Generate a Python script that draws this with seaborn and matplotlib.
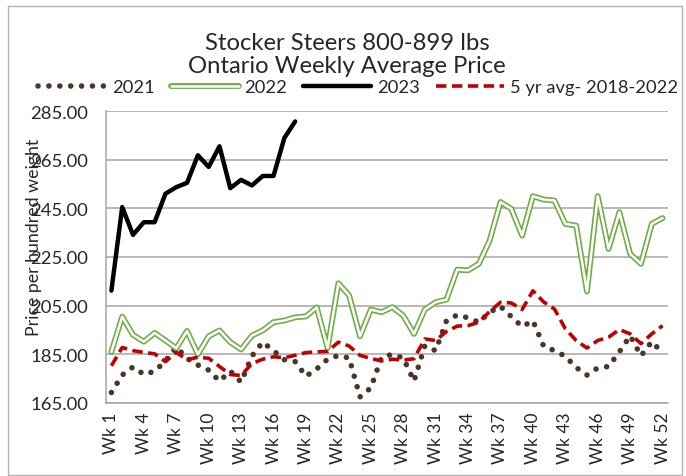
import matplotlib

matplotlib.use("Agg")
import matplotlib.pyplot as plt
from matplotlib.lines import Line2D
from matplotlib.patches import Rectangle
import numpy as np
import pandas as pd
import seaborn as sns

weeks = list(range(1, 53))

price_2021 = [
    169.3, 176.5, 179.8, 176.8, 178.0, 182.3, 188.0, 183.3, 180.6, 178.5,
    174.0, 178.1, 173.6, 184.3, 190.0, 186.5, 182.8, 182.0, 176.0, 179.0,
    183.0, 184.5, 183.5, 167.5, 171.2, 183.8, 185.0, 183.5, 174.0, 188.5,
    186.5, 198.8, 201.2, 200.0, 198.2, 202.3, 204.7, 200.5, 196.4, 198.8,
    188.3, 186.5, 184.2, 179.6, 176.5, 179.4, 180.0, 186.0, 192.6, 184.4,
    190.2, 185.6,
]
price_2022 = [
    186.0, 200.5, 193.0, 190.2, 193.8, 190.7, 187.5, 194.6, 185.0, 192.4,
    194.8, 190.0, 187.0, 192.7, 194.8, 198.2, 198.9, 200.2, 200.6, 204.3,
    187.6, 214.2, 209.2, 192.4, 203.4, 202.3, 204.4, 200.9, 193.4, 203.4,
    206.4, 207.5, 219.8, 219.5, 222.2, 231.8, 247.6, 244.8, 233.8, 250.0,
    248.6, 248.2, 238.6, 237.9, 210.8, 250.0, 228.3, 243.4, 226.3, 222.2,
    238.6, 241.0,
]
price_2023 = [
    211.2, 245.5, 234.1, 239.3, 239.3, 251.0, 253.7, 255.5, 266.8, 262.0,
    270.5, 253.3, 256.7, 254.4, 258.3, 258.3, 273.9, 280.7,
]
avg_5yr = [
    180.3, 187.8, 186.5, 185.8, 185.2, 182.0, 185.8, 182.8, 183.8, 183.4,
    180.0, 176.7, 176.3, 181.2, 183.0, 184.0, 183.6, 184.6, 185.7, 186.0,
    186.2, 190.0, 188.4, 184.6, 183.3, 182.3, 183.0, 182.6, 183.2, 191.3,
    190.7, 194.4, 196.6, 196.8, 198.2, 202.6, 206.4, 206.1, 203.4, 211.1,
    206.5, 203.6, 195.5, 190.7, 187.6, 190.7, 192.0, 195.2, 193.4, 189.4,
    193.4, 196.8,
]

series_labels = ["2021", "2022", "2023", "5 yr avg- 2018-2022"]
title_lines = ["Stocker Steers 800-899 lbs", "Ontario Weekly Average Price"]
y_label = "Price per hundred weight"
y_ticks = [165, 185, 205, 225, 245, 265, 285]

BROWN = "#4B3528"
GREEN = "#70AD47"
RED = "#C00000"
GRID = "#A6A6A6"
DOTS = (0, (0.01, 1.95))
DASHES = (0, (2.9, 1.5))

sns.set_theme(style="white")
plt.rcParams["font.family"] = ["Lato", "DejaVu Sans"]

fig = plt.figure(figsize=(6.86, 4.77), dpi=100)
ax = fig.add_axes([106 / 686, 1 - 404 / 477, 562 / 686, 292 / 477])

sns.lineplot(x=weeks, y=price_2021, ax=ax, color=BROWN, linewidth=4.0)
ax.lines[-1].set_linestyle(DOTS)
ax.lines[-1].set_dash_capstyle("round")

# 2022 is an Excel-style double line: thick green with a white core
sns.lineplot(x=weeks, y=price_2022, ax=ax, color=GREEN, linewidth=4.2)
ax.lines[-1].set_solid_joinstyle("round")
sns.lineplot(x=weeks, y=price_2022, ax=ax, color="white", linewidth=1.8)
ax.lines[-1].set_solid_joinstyle("round")

sns.lineplot(x=weeks[: len(price_2023)], y=price_2023, ax=ax, color="black", linewidth=3.2)
ax.lines[-1].set_solid_joinstyle("round")
ax.lines[-1].set_solid_capstyle("round")

sns.lineplot(x=weeks, y=avg_5yr, ax=ax, color=RED, linewidth=2.6)
ax.lines[-1].set_linestyle(DASHES)

ax.set_xlim(0.5, 52.5)
ax.set_ylim(165, 285)
ax.set_yticks(y_ticks)
ax.set_yticklabels([f"{v:.2f}" for v in y_ticks], fontsize=13.3)
ax.set_xticks(weeks[::3])
ax.set_xticklabels([f"Wk {w}" for w in weeks[::3]], rotation=90, fontsize=12.5)
ax.set_xticks(np.arange(0.5, 53, 1), minor=True)
ax.tick_params(axis="x", which="major", length=0, pad=6)
ax.tick_params(axis="x", which="minor", length=5, width=1, color=GRID, direction="out")
ax.tick_params(axis="y", length=6, width=1, color=GRID, direction="out", pad=7)
ax.set_xlabel("")
ax.set_ylabel("")

ax.yaxis.grid(True, color=GRID, linewidth=1.1)
ax.set_axisbelow(True)
for side in ["top", "right"]:
    ax.spines[side].set_visible(False)
for side in ["left", "bottom"]:
    ax.spines[side].set_color(GRID)
    ax.spines[side].set_linewidth(1.1)

fig.text(34 / 686, 1 - 237 / 477, y_label, rotation=90, ha="center", va="center", fontsize=12.8)
fig.text(347 / 686, 1 - 55 / 477, "\n".join(title_lines), ha="center", va="center",
         fontsize=17.2, linespacing=1.15)

handles = [
    Line2D([], [], color=BROWN, linewidth=4.0, linestyle=DOTS, dash_capstyle="round"),
    (Line2D([], [], color=GREEN, linewidth=4.2), Line2D([], [], color="white", linewidth=1.8)),
    Line2D([], [], color="black", linewidth=3.2),
    Line2D([], [], color=RED, linewidth=2.6, linestyle=DASHES),
]
fig.legend(handles, series_labels, loc="center", bbox_to_anchor=(358 / 686, 1 - 88 / 477),
           ncol=4, frameon=False, fontsize=13.2, handlelength=3.7, handletextpad=0.3,
           columnspacing=0.9, borderaxespad=0)

fig.patches.append(Rectangle((8 / 686, 1 / 477), 674 / 686, 469 / 477, transform=fig.transFigure,
                             fill=False, edgecolor="#B3B3B3", linewidth=1))

fig.savefig("out.png", dpi=100)
